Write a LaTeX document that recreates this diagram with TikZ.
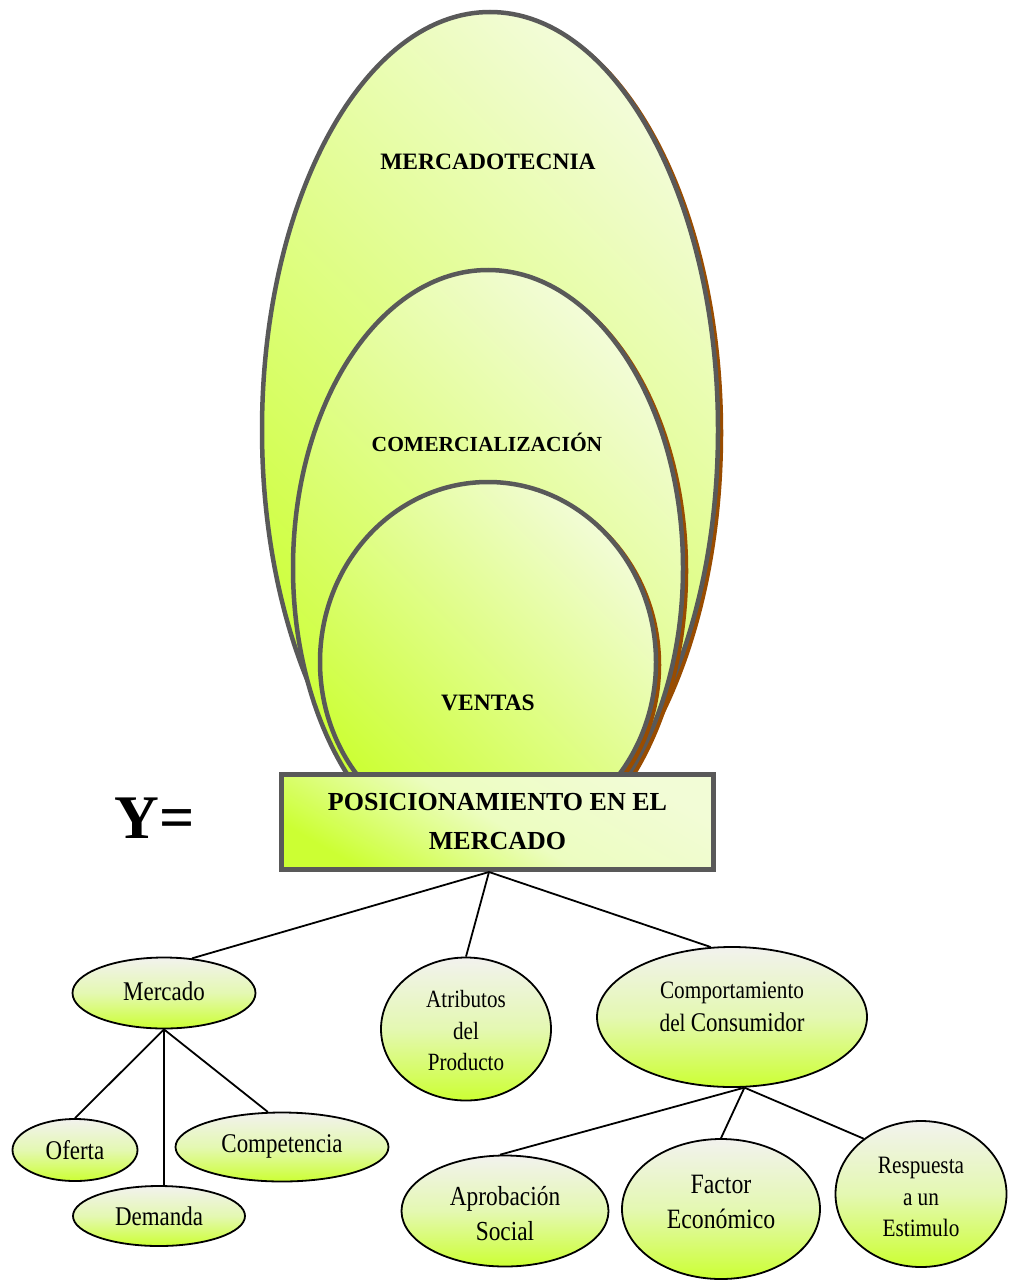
\documentclass[tikz,border=0pt]{standalone}
\usepackage{fontspec}
\setmainfont{Liberation Serif}
\newfontfamily\condfont[FakeStretch=0.85]{Liberation Serif}
\usetikzlibrary{shapes.geometric}

\definecolor{limeL}{RGB}{242,252,214}
\definecolor{limeD}{RGB}{204,255,51}
\definecolor{limeM}{RGB}{228,248,178}
\definecolor{limeB}{RGB}{236,253,192}
\definecolor{capTop}{RGB}{242,242,238}
\definecolor{rimGray}{RGB}{89,89,89}
\definecolor{rust}{RGB}{153,76,0}

\begin{document}
\begin{tikzpicture}[x=1pt,y=-1pt,
  halo/.style={draw=rimGray, line width=4.5pt, bottom color=limeD, top color=limeL, shading angle=-45},
  halo shadow/.style={fill=rust, draw=rust, line width=4.5pt, shift={(3,3)}},
  bub/.style={ellipse, draw=black, line width=1.8pt, top color=capTop, bottom color=limeD, middle color=limeM, inner sep=0pt},
  lbl/.style={align=center, inner sep=0pt},
  link/.style={draw=black, line width=1.8pt},
  tag/.style={anchor=base, inner sep=0pt}
]
\useasboundingbox (0,0) rectangle (1009,1281);

% nested scopes: marketing > commercialisation > sales
\path[halo shadow] (490,430) ellipse [x radius=228, y radius=418];
\path[halo] (490,430) ellipse [x radius=228, y radius=418];
\path[halo shadow] (488,568) ellipse [x radius=195, y radius=298];
\path[halo] (488,568) ellipse [x radius=195, y radius=298];
\path[halo shadow] (488,662) ellipse [x radius=168, y radius=180];
\path[halo] (488,662) ellipse [x radius=168, y radius=180];

\node[tag, font=\fontsize{23.5}{28}\selectfont\bfseries] (mkt) at (488,170) {MERCADOTECNIA};
\node[tag, font=\fontsize{21.5}{26}\selectfont\bfseries] (com) at (487,451) {COMERCIALIZACIÓN};
\node[tag, font=\fontsize{23.5}{28}\selectfont\bfseries] (ven) at (488,710) {VENTAS};

% dependent variable box
\node[draw=rimGray, line width=5pt, bottom color=limeD, top color=limeL, middle color=limeB, shading angle=-30,
      minimum width=432pt, minimum height=95pt, inner sep=0pt, align=center,
      font=\fontsize{26}{39}\selectfont\bfseries] (pos) at (497.5,822) {POSICIONAMIENTO EN EL\\MERCADO};
\node[tag, font=\fontsize{62}{62}\selectfont\bfseries] (yeq) at (155,838) {Y=};

% dimensions and indicators
\node[bub, minimum width=183pt, minimum height=71pt] (merc) at (164,993) {};
\node[bub, minimum width=170pt, minimum height=143pt] (attr) at (466,1029) {};
\node[bub, minimum width=270pt, minimum height=140pt] (comp) at (732,1017) {};
\node[bub, minimum width=125pt, minimum height=62pt] (ofer) at (75,1150) {};
\node[bub, minimum width=172pt, minimum height=60pt] (dema) at (159,1216) {};
\node[bub, minimum width=213pt, minimum height=69pt] (compe) at (282,1147) {};
\node[bub, minimum width=207pt, minimum height=111pt] (apro) at (505,1211) {};
\node[bub, minimum width=198pt, minimum height=140pt] (fact) at (721,1209) {};
\node[bub, minimum width=171pt, minimum height=146pt] (resp) at (921,1194) {};

\node[lbl, font={\condfont\fontsize{27}{32}\selectfont}] (mercT) at (164,991) {Mercado};
\node[lbl, font={\condfont\fontsize{24.8}{31.5}\selectfont}] (attrT) at (466,1031) {Atributos\\del\\Producto};
\node[lbl, font={\condfont\fontsize{25}{33}\selectfont}] (compT) at (732,1007) {Comportamiento\\del {\fontsize{27}{33}\selectfont Consumidor}};
\node[lbl, font={\condfont\fontsize{27}{32}\selectfont}] (oferT) at (75,1150) {Oferta};
\node[lbl, font={\condfont\fontsize{27}{32}\selectfont}] (demaT) at (159,1216) {Demanda};
\node[lbl, font={\condfont\fontsize{27}{32}\selectfont}] (compeT) at (282,1146) {Competencia};
\node[lbl, font={\condfont\fontsize{27.5}{35}\selectfont}] (aproT) at (505,1214) {Aprobación\\Social};
\node[lbl, font={\condfont\fontsize{28}{35}\selectfont}] (factT) at (721,1202) {Factor\\Económico};
\node[lbl, font={\condfont\fontsize{25}{31.5}\selectfont}] (respT) at (921,1197) {Respuesta\\a un\\Estimulo};

% connectors
\coordinate (hub) at (489,872);
\draw[link] (hub) -- (merc.51);
\draw[link] (hub) -- (attr.north);
\draw[link] (hub) -- (comp.107);
\draw[link] (merc.south) -- (ofer.north);
\draw[link] (merc.south) -- (merc.south |- dema.north);
\draw[link] (merc.south) -- (compe.112);
\draw[link] (comp.-80) -- (apro.95);
\draw[link] (comp.-80) -- (fact.north);
\draw[link] (comp.-80) -- (resp.136);
\end{tikzpicture}
\end{document}
